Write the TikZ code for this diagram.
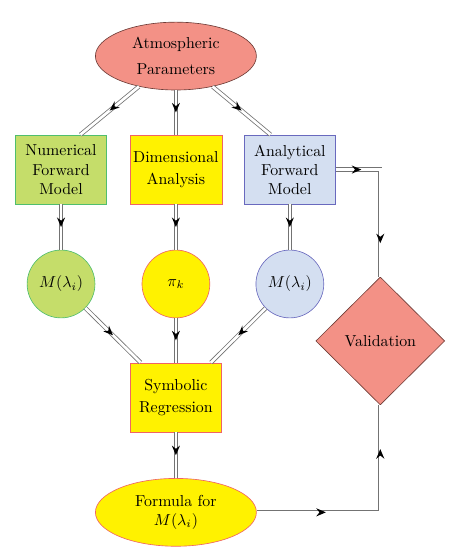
\documentclass[tikz,border=0pt]{standalone}
\usepackage{amsmath}
\usepackage{tikz}
\usetikzlibrary{positioning, arrows.meta, shapes.geometric, decorations.markings}

\definecolor{salmonfill}{RGB}{243,145,134}
\definecolor{salmonline}{RGB}{110,60,55}
\definecolor{leaffill}{RGB}{197,221,106}
\definecolor{leafline}{RGB}{80,190,110}
\definecolor{sunfill}{RGB}{255,242,0}
\definecolor{sunline}{RGB}{240,100,100}
\definecolor{skyfill}{RGB}{212,223,241}
\definecolor{skyline}{RGB}{105,105,190}

\begin{document}
\begin{tikzpicture}[
        procbox/.style 2 args={
            rectangle,
            draw=#2,
            fill=#1,
            thin,
            minimum width=2.01cm,
            minimum height=1.53cm,
            align=center,
            inner sep=2pt
        },
        datacircle/.style 2 args={
            circle,
            draw=#2,
            fill=#1,
            thin,
            minimum size=1.5cm,
            inner sep=0pt
        },
        termellipse/.style 2 args={
            ellipse,
            draw=#2,
            fill=#1,
            thin,
            minimum width=3.56cm,
            minimum height=1.5cm,
            align=center,
            inner sep=0pt
        },
        checkdiamond/.style={
            diamond,
            draw=salmonline,
            fill=salmonfill,
            thin,
            minimum width=2.85cm,
            minimum height=2.83cm,
            inner sep=0pt
        },
        doubleline/.style={
            draw=black!55,
            line width=0.5pt,
            double=white,
            double distance=1.7pt
        },
        flow/.style={
            doubleline,
            postaction={
                decorate,
                decoration={
                    markings,
                    mark=at position #1 with {
                        \arrow[black]{Stealth[length=6pt,width=5pt]}
                    }
                }
            }
        },
        flow/.default=0.5,
        elbowflow/.style 2 args={
            doubleline,
            postaction={
                decorate,
                decoration={
                    markings,
                    mark=at position #1 with {
                        \arrow[black]{Stealth[length=6pt,width=5pt]}
                    },
                    mark=at position #2 with {
                        \arrow[black]{Stealth[length=6pt,width=5pt]}
                    }
                }
            }
        }
    ]

    \useasboundingbox (0,0) rectangle (10.11,-12.34);

    % --------------------------------------------------------
    % Input
    % --------------------------------------------------------

    \node[
        termellipse={salmonfill}{salmonline}
    ]
    (atmos)
    at (3.89,-1.24)
    {Atmospheric\\[4pt]Parameters};

    % --------------------------------------------------------
    % Forward models and analysis
    % --------------------------------------------------------

    \node[
        procbox={leaffill}{leafline}
    ]
    (numerical)
    at (1.35,-3.75)
    {Numerical\\Forward\\Model};

    \node[
        procbox={sunfill}{sunline}
    ]
    (dimensional)
    at (3.89,-3.75)
    {Dimensional\\[2pt]Analysis};

    \node[
        procbox={skyfill}{skyline}
    ]
    (analytical)
    at (6.41,-3.75)
    {Analytical\\Forward\\Model};

    % --------------------------------------------------------
    % Intermediate quantities
    % --------------------------------------------------------

    \node[
        datacircle={leaffill}{leafline}
    ]
    (mnum)
    at (1.35,-6.28)
    {$M(\lambda_i)$};

    \node[
        datacircle={sunfill}{sunline}
    ]
    (pik)
    at (3.89,-6.28)
    {$\pi_k$};

    \node[
        datacircle={skyfill}{skyline}
    ]
    (mana)
    at (6.41,-6.28)
    {$M(\lambda_i)$};

    % --------------------------------------------------------
    % Regression, result and validation
    % --------------------------------------------------------

    \node[
        procbox={sunfill}{sunline}
    ]
    (symbolic)
    at (3.89,-8.79)
    {Symbolic\\[2pt]Regression};

    \node[
        termellipse={sunfill}{sunline}
    ]
    (formula)
    at (3.89,-11.33)
    {Formula for\\$M(\lambda_i)$};

    \node[
        checkdiamond
    ]
    (validation)
    at (8.41,-7.54)
    {Validation};

    % --------------------------------------------------------
    % Connectors
    % --------------------------------------------------------

    \draw[flow] (atmos) -- (numerical.61);
    \draw[flow] (atmos) -- (dimensional);
    \draw[flow] (atmos) -- (analytical.119);

    \draw[flow] (numerical) -- (mnum);
    \draw[flow] (dimensional) -- (pik);
    \draw[flow] (analytical) -- (mana);

    \draw[flow] (mnum) -- (symbolic);
    \draw[flow] (pik) -- (symbolic);
    \draw[flow] (mana) -- (symbolic);

    \draw[flow] (symbolic) -- (formula);

    \draw[elbowflow={0.17}{0.78}] (analytical) -| (validation);
    \draw[elbowflow={0.3}{0.81}] (formula) -| (validation);

\end{tikzpicture}
\end{document}
